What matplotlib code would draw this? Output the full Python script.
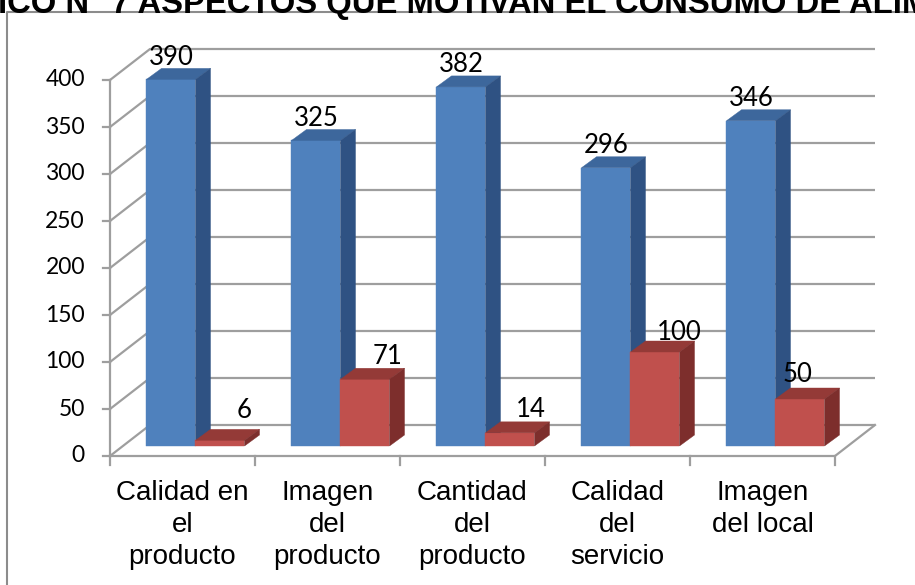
import matplotlib.pyplot as plt
from matplotlib.lines import Line2D
from matplotlib.patches import Polygon

categories = [
    "Calidad en\nel\nproducto",
    "Imagen\ndel\nproducto",
    "Cantidad\ndel\nproducto",
    "Calidad\ndel\nservicio",
    "Imagen\ndel local",
]
serie_azul = [390, 325, 382, 296, 346]
serie_roja = [6, 71, 14, 100, 50]
y_ticks = [0, 50, 100, 150, 200, 250, 300, 350, 400]
titulo = "ICO N° 7 ASPECTOS QUE MOTIVAN EL CONSUMO DE ALIMENTOS"

# colours of the faces: front, top, side
AZUL = ("#4F81BD", "#3D679C", "#2F5283")
ROJO = ("#C0504D", "#943A37", "#7D2E2C")
GRID = "#9E9E9E"
LABEL_FONT = ["Lato", "DejaVu Sans"]
AXIS_FONT = ["Liberation Sans", "DejaVu Sans"]

W, H = 915, 585
# front edge of the floor and the 400 line, in pixels
X_LEFT, X_RIGHT = 110, 835
Y_ZERO, Y_TOP = 456, 80
n = len(categories)
cat_px = (X_RIGHT - X_LEFT) / n
unit_px = (Y_ZERO - Y_TOP) / y_ticks[-1]


def px_x(p):
    return p / cat_px


def px_y(p):
    return p / unit_px


fig = plt.figure(figsize=(W / 100, H / 100), dpi=100)
ax = fig.add_axes([0, 0, 1, 1])
ax.set_xlim(-X_LEFT / cat_px, (W - X_LEFT) / cat_px)
ax.set_ylim(-(H - Y_ZERO) / unit_px, Y_ZERO / unit_px)
ax.axis("off")

wall_dx, wall_dy = px_x(40), px_y(31)
bar_dx0, bar_dy0 = px_x(13), px_y(10)
bar_dx, bar_dy = px_x(15), px_y(11)
bar_w = px_x(49)

# side wall and back wall gridlines
for t in y_ticks:
    ax.plot([0, wall_dx, n + wall_dx], [t, t + wall_dy, t + wall_dy],
            color=GRID, lw=1.6, solid_capstyle="butt", zorder=1)
    ax.plot([px_x(-7), 0], [t, t], color=GRID, lw=1.6, zorder=1)
    ax.text(px_x(-25), t, str(t), ha="right", va="center", fontsize=16.5,
            family=LABEL_FONT, color="black")

# floor and axes
ax.plot([0, n, n + wall_dx], [0, 0, wall_dy], color=GRID, lw=1.6, zorder=1)
ax.plot([0, 0], [0, y_ticks[-1]], color=GRID, lw=1.6, zorder=1)
for i in range(n + 1):
    ax.plot([i, i], [0, px_y(-9)], color=GRID, lw=1.6, zorder=1)


def draw_bar(x_left, value, colors):
    x = x_left + bar_dx0
    b = bar_dy0
    top = b + value
    front = [(x, b), (x + bar_w, b), (x + bar_w, top), (x, top)]
    lid = [(x, top), (x + bar_w, top), (x + bar_w + bar_dx, top + bar_dy),
           (x + bar_dx, top + bar_dy)]
    side = [(x + bar_w, b), (x + bar_w + bar_dx, b + bar_dy),
            (x + bar_w + bar_dx, top + bar_dy), (x + bar_w, top)]
    for pts, c in zip((front, lid, side), colors):
        ax.add_patch(Polygon(pts, closed=True, facecolor=c, edgecolor=c,
                             lw=0.3, zorder=2))


# label nudges in pixels (right, up) for the red series
rojo_dx = [24, 23, 21, 24, -2]
rojo_dy = [32, 25, 25, 21, 26]

for i, (va_, vr) in enumerate(zip(serie_azul, serie_roja)):
    center = i + 0.5
    draw_bar(center - bar_w, va_, AZUL)
    draw_bar(center, vr, ROJO)
    ax.text(center - bar_w / 2 + bar_dx0, va_ + bar_dy0 + px_y(22), str(va_),
            ha="center", va="center", fontsize=18.5, family=LABEL_FONT, zorder=3)
    ax.text(center + bar_w / 2 + bar_dx0 + px_x(rojo_dx[i]),
            vr + bar_dy0 + px_y(rojo_dy[i] - 2), str(vr),
            ha="center", va="center", fontsize=18.5, family=LABEL_FONT, zorder=3)
    ax.text(center, px_y(-24), categories[i], ha="center", va="top",
            fontsize=20, family=AXIS_FONT, linespacing=1.3)

# chart frame, top and left edges only
fig.add_artist(Line2D([7 / W, 7 / W, 1], [0, 1 - 12 / H, 1 - 12 / H],
                      transform=fig.transFigure, color="#8C8C8C", lw=1.5))
fig.text(-2 / W, 1 - 13 / H, titulo, ha="left", va="baseline", fontsize=23.6,
         fontweight="bold", family=AXIS_FONT)

fig.savefig("out.png", dpi=100, facecolor="white")
